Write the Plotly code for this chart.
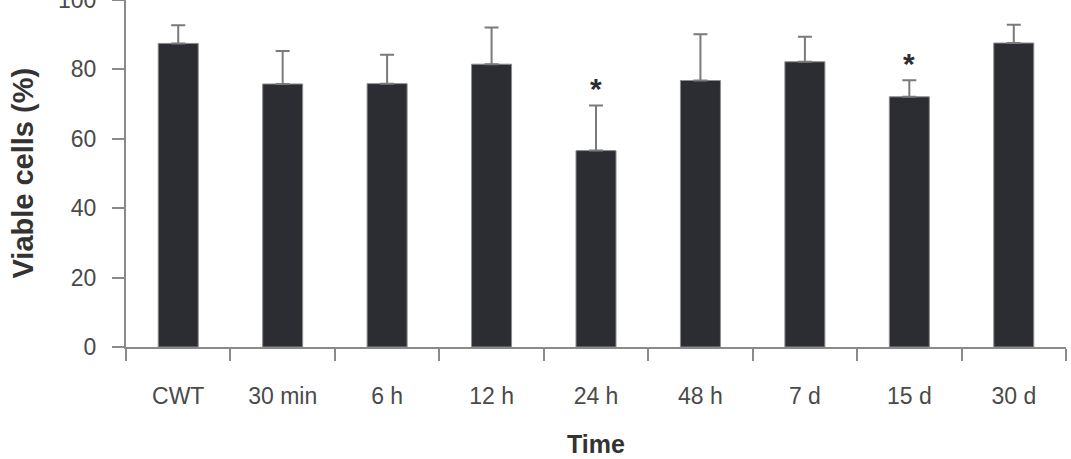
import plotly.graph_objects as go

categories = ["CWT", "30 min", "6 h", "12 h", "24 h", "48 h", "7 d", "15 d", "30 d"]
means = [87.5, 75.8, 75.9, 81.5, 56.6, 76.8, 82.2, 72.1, 87.6]
sd = [5.2, 9.5, 8.3, 10.6, 13.0, 13.3, 7.2, 4.8, 5.3]
signif = ["", "", "", "", "*", "", "", "*", ""]
y_ticks = [0, 20, 40, 60, 80, 100]

FONT = "Liberation Sans, Arial, sans-serif"
AXIS_COL = "#8a8a8a"

fig = go.Figure()
fig.add_trace(go.Bar(
    x=categories, y=means,
    marker=dict(color="#2b2d33", line=dict(color="#8c8c8c", width=1)),
    error_y=dict(type="data", symmetric=False, array=sd, arrayminus=[0] * len(sd),
                 color="#7a7a7a", thickness=2, width=7),
    showlegend=False,
))

for c, m, s, star in zip(categories, means, sd, signif):
    if star:
        fig.add_annotation(x=c, y=m + s, text="<b>" + star + "</b>", showarrow=False,
                           yanchor="bottom", yshift=-2,
                           font=dict(family=FONT, size=30, color="#2b2d33"))

fig.add_annotation(xref="paper", yref="paper", x=0, y=0.5, text="<b>Viable cells (%)</b>",
                   textangle=-90, showarrow=False, xanchor="center", yanchor="middle",
                   xshift=-104, font=dict(family=FONT, size=29, color="#333333"))
fig.add_annotation(xref="paper", yref="paper", x=0.5, y=0, text="<b>Time</b>",
                   showarrow=False, xanchor="center", yanchor="middle",
                   yshift=-97, font=dict(family=FONT, size=25, color="#333333"))

fig.update_layout(
    width=1071, height=459,
    margin=dict(l=126, r=5, t=0, b=112, autoexpand=False),
    paper_bgcolor="white", plot_bgcolor="white",
    bargap=0.617,
    font=dict(family=FONT),
)
fig.update_xaxes(
    showline=True, linecolor=AXIS_COL, linewidth=2,
    ticks="outside", tickson="boundaries", ticklen=12, tickwidth=2, tickcolor=AXIS_COL,
    tickfont=dict(family=FONT, size=23, color="#4a4a4a"),
    ticklabelstandoff=27, showgrid=False, zeroline=False, automargin=False,
)
fig.update_yaxes(
    range=[0, 100], tickvals=y_ticks,
    showline=True, linecolor=AXIS_COL, linewidth=2,
    ticks="outside", ticklen=12, tickwidth=2, tickcolor=AXIS_COL,
    tickfont=dict(family=FONT, size=23, color="#4a4a4a"),
    ticklabelstandoff=11, ticklabeloverflow="allow",
    showgrid=False, zeroline=False, automargin=False,
)

fig.write_html("out.html")
